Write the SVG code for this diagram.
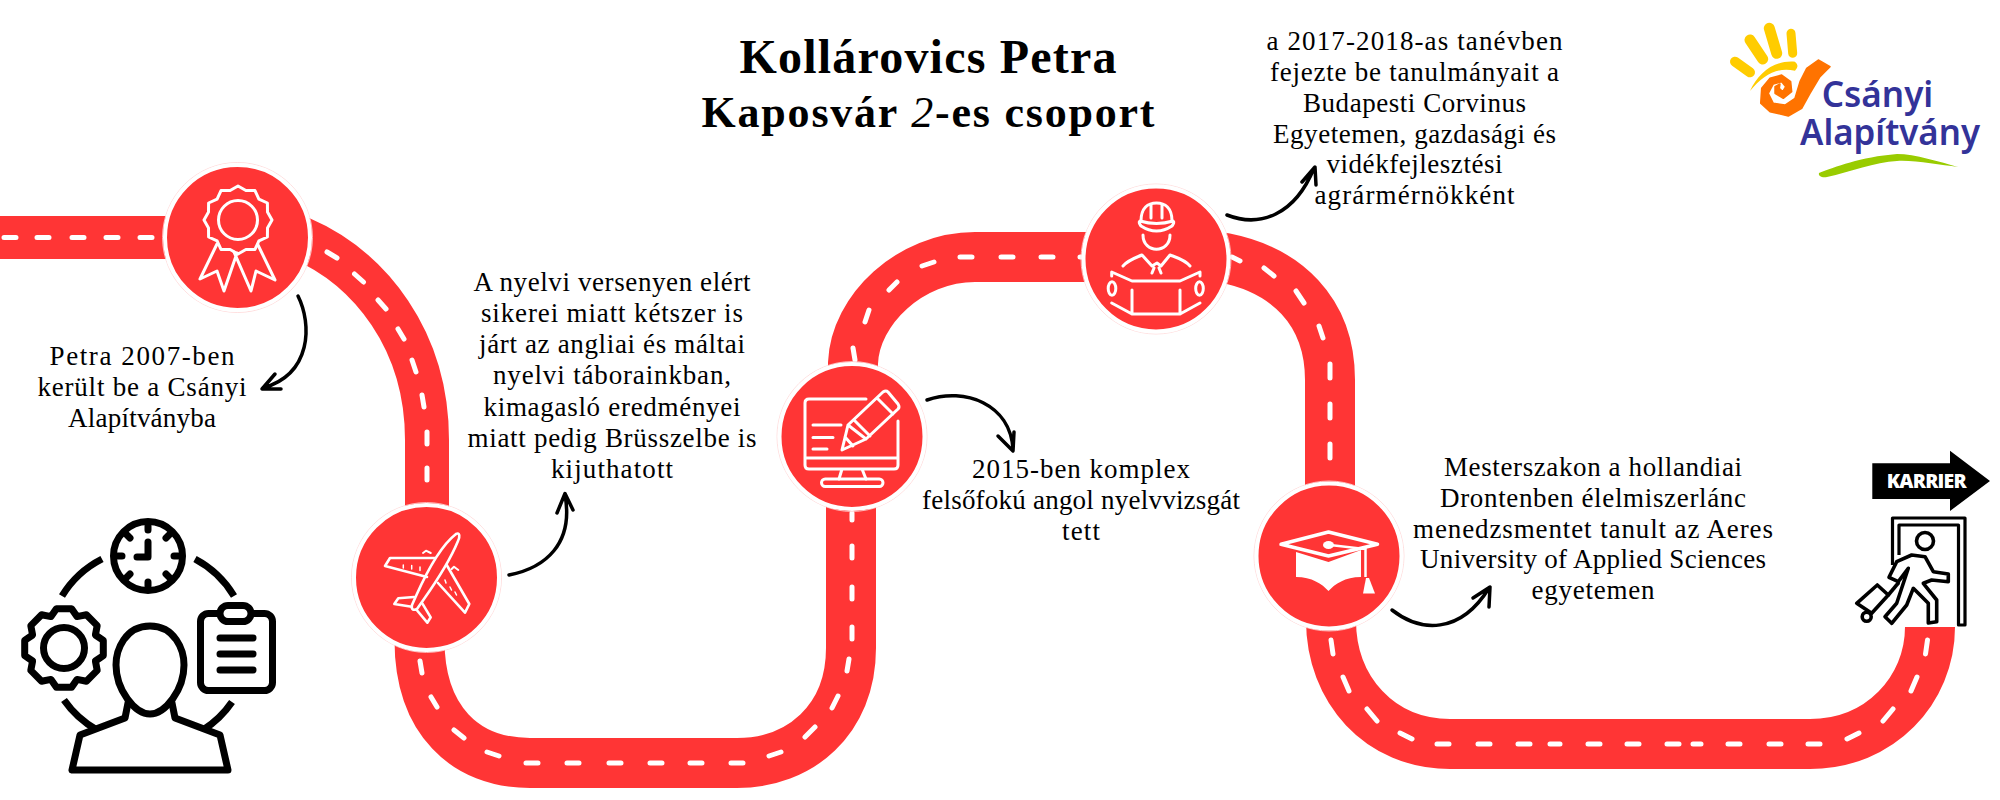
<svg xmlns="http://www.w3.org/2000/svg" width="2000" height="800" viewBox="0 0 2000 800">
<style>
text{font-family:"Liberation Serif","Times New Roman",serif;fill:#000}
.t{font-size:27px;text-anchor:middle}
.h{font-weight:bold;text-anchor:middle}
.road{fill:none;stroke:#ff3535}
.dash{fill:none;stroke:#fff;stroke-width:5;stroke-linecap:round}
.arr{fill:none;stroke:#000;stroke-width:3.5;stroke-linecap:round;stroke-linejoin:round}
.disc{fill:#ff3535;stroke:#fff;stroke-width:4}
.ring{fill:none;stroke:#ffd5d5;stroke-width:.8}
.ic{fill:none;stroke:#fff;stroke-width:3;stroke-linecap:round;stroke-linejoin:round}
.bk{fill:none;stroke:#000;stroke-width:7;stroke-linecap:round;stroke-linejoin:round}
.bk3{fill:#fff;stroke:#000;stroke-width:3.6;stroke-linejoin:round;stroke-linecap:round}
.logo{font-family:"Noto Sans","Liberation Sans",sans-serif;font-weight:600;font-size:36px;fill:#333399}
</style>
<g id="connectors">
<g id="road">
<path class="road" stroke-width="43" d="M0 237.500H240"/>
<path class="road" stroke-width="44" d="M300 238C370 268 427 340 427 440V560"/>
<path class="road" stroke-width="50" d="M419.500 560V640C419.500 720 465 763 530 763H737C800 763 851 720 851 648V500"/>
<path class="road" stroke-width="50" d="M853 400V363C855 310 910 257 975 257H1156"/>
<path class="road" stroke-width="50" d="M1156 252L1225 258C1285 270 1330 310 1330 380V560"/>
<path class="road" stroke-width="50" d="M1331 560V620C1331 690 1380 744 1450 744H1810C1880 744 1930 690 1930 627"/>
<path class="dash" d="M4 237.500H16M37 237.500H49M72 237.500H84M106 237.500H118M140 237.500H152M327 252L337 258M354.500 274L363.500 282M378 300L386 309M398 329L404 339M412 360L416 372M422 395L424 407M427 432V444M427 468V480M420 661L422 673M431 697L437 707M454 730L464 738M487 752L499 756M526 763H538M567 763H579M609 763H621M650 763H662M690 763H702M731 763H743M769 756L781 752M805 737L815 727M832 708L838 696M847 671L849 659M852 513V520M852 546V558M852 587V599M852 627V639M853 348L855 360M865 322L869 310M889 290L897 282M922 266L934 262M960 257H972M1001 257H1013M1041 257H1053M1080 257H1092M1232 257L1240 261M1264 268L1274 276M1296 291L1304 303M1319 326L1323 338M1330 364V378M1330 404V418M1330 444V458M1331 640L1333 654M1343 677L1349 691M1367 709L1377 721M1400 733L1412 739M1437 744H1449M1478 744H1490M1518 744H1530M1550 744H1560M1588 744H1600M1627 744H1639M1667 744H1679M1693 744H1701M1728 744H1740M1769 744H1781M1808 744H1820M1847 739L1859 733M1883 721L1893 709M1911 691L1917 677M1925.500 654L1927.500 640"/>
</g>
<g id="arrows">
<path class="arr" d="M298 296C312 324 312 374 263 388M275 374L262 389L281 389"/>
<path class="arr" d="M509 575C545 568 574 544 565 495M557 513L565 493.500L573 510"/>
<path class="arr" d="M927 400C965 387 1010 404 1013 449M998 436L1013 451L1014 432"/>
<path class="arr" d="M1227 215C1260 228 1295 215 1314 168M1302 182L1315 167L1316 185"/>
<path class="arr" d="M1392 610C1420 632 1460 635 1489 588M1473 598L1490 587L1489 607"/>
</g>
</g>
<g id="node-award">
<circle class="ring" cx="237.500" cy="237.500" r="75"/><circle class="disc" cx="237.500" cy="237.500" r="72.500"/>
<g class="ic" transform="translate(238 220)">
<polygon points="34,0 29.500,7.900 29.400,17 20.900,20.900 17,29.400 7.900,29.500 0,34 -7.900,29.500 -17,29.400 -20.900,20.900 -29.400,17 -29.500,7.900 -34,0 -29.500,-7.900 -29.400,-17 -20.900,-20.900 -17,-29.400 -7.900,-29.500 0,-34 7.900,-29.500 17,-29.400 20.900,-20.900 29.400,-17 29.500,-7.900"/>
<circle r="19.500"/>
<path d="M-21 24L-38 59L-21 51L-14 71L-1 33M-4 32L13 71L18 51L37 60L20 25"/>
</g>
</g>
<g id="node-plane">
<circle class="ring" cx="426.500" cy="577.500" r="75"/><circle class="disc" cx="426.500" cy="577.500" r="72.500"/>
<g class="ic" style="stroke-width:2.600">
<path d="M456 534C460 532 460 537 458 541C451 558 436 582 424 599L417 609C413 611 411 609 412 605L416 596C424 578 438 548 456 534Z"/>
<path d="M435 558L390 558L385 566L427 577M446.700 565L469.300 604L465 612.700L438 583M414 597L398.300 598.300L394.300 604L411.700 606.700M422.300 603.300L430.700 617.300L427.300 622.700L416.700 610"/>
<path d="M423 553L426 550.700L430.700 553M451.700 569L454 566.700L458.300 570" stroke-width="2"/>
<path d="M403.300 565V568M411.700 565.500V569M420 567V570.500M445 580L446 583M450 587L451.500 590M455 592L456.500 595" stroke-width="1.500"/>
</g>
</g>
<g id="node-computer">
<circle class="ring" cx="852" cy="436.500" r="75"/><circle class="disc" cx="852" cy="436.500" r="72.500"/>
<g class="ic">
<path d="M866 399H809Q805 399 805 403V465Q805 469 809 469H894Q898 469 898 465V421M805 458H898M842 469L839 479M862 469L866 479M813 425H841M813 437.500H833M813 449H827"/>
<rect x="821.500" y="479" width="61.500" height="7.500" rx="3.700"/>
<path d="M842 450L848 425L883 392Q886 390 888 392L898 404Q900 407 898 409L866 439ZM877 398L893 414M848 425L866 439M845 437L853 446M854 420L870 436"/>
</g>
</g>
<g id="node-engineer">
<circle class="ring" cx="1156" cy="259" r="75"/><circle class="disc" cx="1156" cy="259" r="72.500"/>
<g class="ic">
<path d="M1141 221C1141 208 1148 203 1156.500 203C1165 203 1172 208 1172 221M1151 205V218M1162 205V218"/>
<path d="M1140 221Q1156.500 226 1173 221Q1175 222 1172 226Q1156.500 236 1141 226Q1138 222 1140 221Z"/>
<path d="M1143 235C1143 254 1170 254 1170 235M1123 266C1128 260 1135 258 1142 255L1152 266L1157 263L1161 266L1170 255C1178 258 1185 260 1190 266M1154 268L1152 273M1159 268L1161 273"/>
<path d="M1111.700 276V272L1132 281H1180L1200 272V276M1111.700 303L1132 314H1180L1200 303M1132 290V314M1180 290V314"/>
<ellipse cx="1112" cy="288.500" rx="3.800" ry="6.800"/><ellipse cx="1199.500" cy="288.500" rx="3.800" ry="6.800"/>
</g>
</g>
<g id="node-graduate">
<circle class="ring" cx="1329" cy="556" r="75"/><circle class="disc" cx="1329" cy="556" r="72.500"/>
<path fill="#fff" d="M1296 552L1328.500 562L1361 550V577C1345 577 1335 584 1328.500 591C1322 584 1312 577 1296 577Z"/>
<path fill="#ff3535" stroke="#fff" stroke-width="3.500" stroke-linejoin="round" d="M1281 544.300L1328.500 532L1377.500 544.300L1328.500 556Z"/>
<ellipse cx="1328.500" cy="545" rx="5.500" ry="4" fill="#fff"/>
<path fill="none" stroke="#fff" stroke-width="2.500" d="M1330 545L1365.500 549V577"/>
<path fill="#fff" d="M1363 593.500L1366 578H1369L1375 593.500Z"/>
</g>
<g id="node-team-icon">
<circle class="bk" cx="148" cy="556" r="34.500"/>
<path class="bk" d="M148 526V530M148 582V586M118 556H122M174 556H178M127 535L130 538M166 574L169 577M127 577L130 574M166 538L169 535M148 542V557H137"/>
<path class="bk" d="M102 559A100 100 0 0 0 62 596M195 559A100 100 0 0 1 234 596M64 700A100 100 0 0 0 97 730M232 702A100 100 0 0 1 203 730" style="stroke-linecap:butt"/>
<polygon class="bk" transform="translate(64 648)" points="39.300,7.600 31.400,13 33.200,22.400 22.400,33.200 13,31.400 7.600,39.300 -7.600,39.300 -13,31.400 -22.400,33.200 -33.200,22.400 -31.400,13 -39.300,7.600 -39.300,-7.600 -31.400,-13 -33.200,-22.400 -22.400,-33.200 -13,-31.400 -7.600,-39.300 7.600,-39.300 13,-31.400 22.400,-33.200 33.200,-22.400 31.400,-13 39.300,-7.600"/>
<circle class="bk" cx="64" cy="648" r="20.500"/>
<rect class="bk" x="200.500" y="613.500" width="72" height="77" rx="8" style="fill:#fff"/>
<rect class="bk" x="220" y="605.500" width="31" height="16" rx="8" style="fill:#fff"/>
<path class="bk" d="M220 638H253M220 654H253M220 670H253"/>
<path class="bk" d="M128 703L125 718L80 735L72 770H228L220 735L175 718L172 703" style="fill:#fff"/>
<path class="bk" d="M150 626C125 626 116 650 116 665C116 690 135 714 150 714C165 714 184 690 184 665C184 650 175 626 150 626Z" style="fill:#fff"/>
</g>
<g id="node-career">
<path fill="#000" d="M1872.300 463.300H1950V450.700L1990 481L1950 511V499H1872.300Z"/>
<text x="1926.700" y="488.300" text-anchor="middle" textLength="80" style="font-family:'Open Sans',sans-serif;font-weight:800;font-size:19.500px;fill:#fff">KARRIER</text>
<path fill="none" stroke="#000" stroke-width="3.200" stroke-linejoin="round" d="M1892.500 565V518H1965V625H1958.500V525H1899V555"/>
<circle class="bk3" cx="1925" cy="541" r="8.500"/>
<path class="bk3" d="M1898.300 583L1888.300 595"/>
<path class="bk3" d="M1877.300 585L1888.300 595L1871.700 613.300L1856.700 603.300Z"/>
<circle class="bk3" cx="1866.700" cy="616.700" r="4.500"/>
<path class="bk3" d="M1911.700 555L1925 556.700L1933.300 571.700L1948.300 574L1948.300 581.700L1931.700 580L1923.300 583.300L1936.700 600L1936.700 621.700L1928.300 623L1928.300 603.300L1913.300 588.300L1906.700 605L1891.700 623.300L1885 616.700L1896.700 603.300L1908.300 568.300L1898.300 581.700L1889 577.300L1896.700 561.700Z"/>
</g>
<g id="node-logo">
<path fill="none" stroke="#ffcc00" stroke-linecap="round" stroke-width="10" d="M1735 61.700L1750 72.300"/>
<path fill="none" stroke="#ffcc00" stroke-linecap="round" stroke-width="11" d="M1750 40L1762.700 59M1769.300 28.300L1776.700 53.300"/>
<path fill="none" stroke="#ffcc00" stroke-linecap="round" stroke-width="9" d="M1791 33.300L1792.700 53.300"/>
<path fill="#ffcc00" d="M1750 91C1758.300 73.300 1773.300 60 1795 61.700Q1800 66 1795 70.700C1776.700 66.700 1763.300 75 1750 91Z"/>
<polygon fill="#ff7300" stroke="#ff7300" stroke-width="1.500" stroke-linejoin="round" points="1818.300,60 1830,66.700 1820,76.700 1810,93.300 1801.700,108.300 1788.300,116 1770,111.700 1760.700,103.300 1761.700,88.300 1770,78.300 1781.700,75 1790.700,81.700 1791.700,91.700 1783.300,98.300 1775,93.300 1775,86.700 1780,84 1779.300,88.300 1782.700,91.700 1785.700,86.700 1781.700,81.700 1773.300,84 1768.300,93.300 1773.300,103.300 1785,105 1795,98.300 1800,81.700 1806.700,68.300"/>
<path fill="#99cc00" d="M1819 173C1835 167 1860 157 1897 154C1915 154 1940 162 1958 167C1940 165 1915 160 1897 161C1875 162 1850 172 1827 177C1822 178 1818 176 1819 173Z"/>
<text class="logo" x="1821.700" y="106.700" textLength="111.600" lengthAdjust="spacingAndGlyphs">Csányi</text>
<text class="logo" x="1800" y="145" textLength="180" lengthAdjust="spacingAndGlyphs">Alapítvány</text>
</g>
<g id="title">
<text class="h" x="928" y="73" font-size="48" textLength="377">Kollárovics Petra</text>
<text class="h" x="928" y="127" font-size="44" textLength="453">Kaposvár <tspan font-style="italic" font-weight="normal">2</tspan>-es csoport</text>
</g>
<g id="note-1">
<text class="t" x="142" y="365" textLength="185">Petra 2007-ben</text>
<text class="t" x="142" y="396" textLength="209">került be a Csányi</text>
<text class="t" x="142" y="427" textLength="148">Alapítványba</text>
</g>
<g id="note-2">
<text class="t" x="612" y="291" textLength="277">A nyelvi versenyen elért</text>
<text class="t" x="612" y="322" textLength="262">sikerei miatt kétszer is</text>
<text class="t" x="612" y="353" textLength="266">járt az angliai és máltai</text>
<text class="t" x="612" y="384" textLength="238">nyelvi táborainkban,</text>
<text class="t" x="612" y="415.500" textLength="257">kimagasló eredményei</text>
<text class="t" x="612" y="446.500" textLength="289">miatt pedig Brüsszelbe is</text>
<text class="t" x="612" y="477.500" textLength="122">kijuthatott</text>
</g>
<g id="note-3">
<text class="t" x="1081" y="478" textLength="218">2015-ben komplex</text>
<text class="t" x="1081" y="509" textLength="318">felsőfokú angol nyelvvizsgát</text>
<text class="t" x="1081" y="540" textLength="38">tett</text>
</g>
<g id="note-4">
<text class="t" x="1414.500" y="50" textLength="296">a 2017-2018-as tanévben</text>
<text class="t" x="1414.500" y="81" textLength="289">fejezte be tanulmányait a</text>
<text class="t" x="1414.500" y="112" textLength="223">Budapesti Corvinus</text>
<text class="t" x="1414.500" y="143" textLength="283">Egyetemen, gazdasági és</text>
<text class="t" x="1414.500" y="173" textLength="176">vidékfejlesztési</text>
<text class="t" x="1414.500" y="204" textLength="200">agrármérnökként</text>
</g>
<g id="note-5">
<text class="t" x="1593" y="476" textLength="298">Mesterszakon a hollandiai</text>
<text class="t" x="1593" y="507" textLength="306">Drontenben élelmiszerlánc</text>
<text class="t" x="1593" y="538" textLength="360">menedzsmentet tanult az Aeres</text>
<text class="t" x="1593" y="568" textLength="346">University of Applied Sciences</text>
<text class="t" x="1593" y="599" textLength="123">egyetemen</text>
</g>
</svg>
